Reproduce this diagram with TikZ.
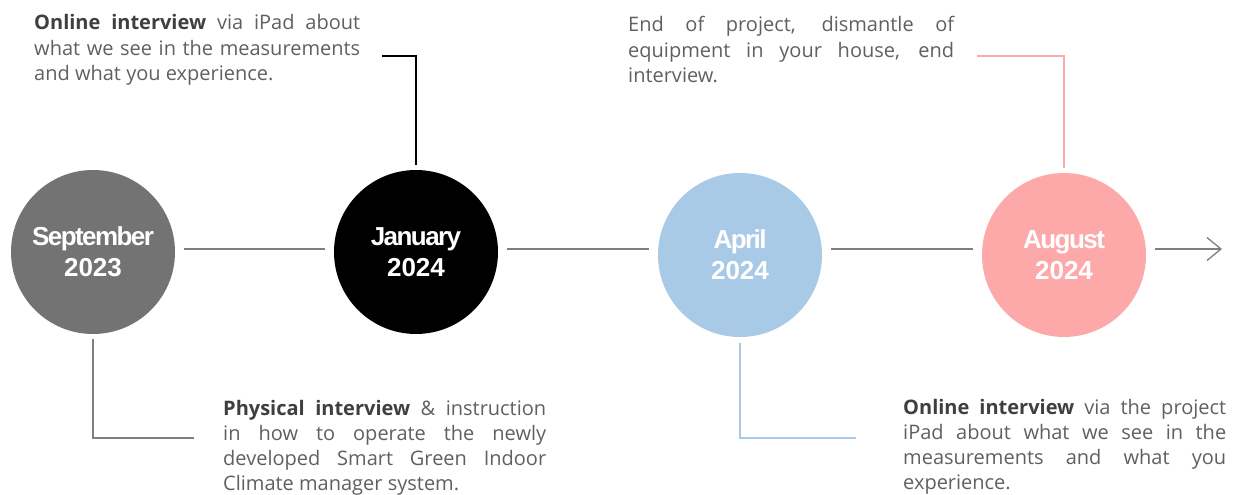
\documentclass[tikz,border=0pt]{standalone}
\usepackage{fontspec}
\setmainfont{Open Sans}
\newfontfamily\yearfont{Liberation Sans}
\newfontfamily\monthfont[LetterSpace=-6]{Liberation Sans}
\usetikzlibrary{arrows.meta}
\definecolor{sepgray}{HTML}{737373}
\definecolor{aprblue}{HTML}{A9CAE6}
\definecolor{augpink}{HTML}{FDA9AA}
\definecolor{linegray}{HTML}{7F7F7F}
\definecolor{txtgray}{HTML}{606060}
\definecolor{boldgray}{HTML}{3F3F3F}
\newcommand{\hl}[1]{{\color{boldgray}\bfseries #1}}
\newcommand{\mon}[1]{{\monthfont\bfseries #1}}
\newcommand{\nohyph}{\hyphenpenalty=10000\relax\exhyphenpenalty=10000\relax\hbadness=10000\relax}
\begin{document}
\begin{tikzpicture}[x=1bp,y=-1bp,
  datecircle/.style={circle, minimum size=164bp, inner sep=0pt, text=white, align=center,
    font=\yearfont\bfseries\fontsize{26bp}{31bp}\selectfont},
  bodytext/.style={anchor=base west, inner sep=0pt, text width=326bp, align=justify,
    font=\fontsize{20bp}{25.3bp}\selectfont\nohyph, text=txtgray},
  timeline/.style={draw=linegray, line width=1.3bp},
  conn/.style={line width=1.5bp}]
\useasboundingbox (0,0) rectangle (1238,495);
% circles
\node[datecircle, fill=sepgray] (sep) at (93,252) {\mon{September}\\2023};
\node[datecircle, fill=black] (jan) at (416,252) {\mon{January}\\2024};
\node[datecircle, fill=aprblue] (apr) at (740,255) {\mon{April}\\2024};
\node[datecircle, fill=augpink] (aug) at (1064,255) {\mon{August}\\2024};
% timeline
\coordinate (tl) at (0,249);
\coordinate (tend) at (1222,249);
\draw[timeline] ([xshift=9bp]sep.east |- tl) -- ([xshift=-9bp]jan.west |- tl);
\draw[timeline] ([xshift=9bp]jan.east |- tl) -- ([xshift=-9bp]apr.west |- tl);
\draw[timeline] ([xshift=9bp]apr.east |- tl) -- ([xshift=-9bp]aug.west |- tl);
\draw[timeline, -{Straight Barb[length=14bp,width=23bp,line width=1.3bp]}] ([xshift=9bp]aug.east |- tl) -- (tend);
% texts
\node[bodytext] (t1) at (34,30) {\hl{Online interview} via iPad about\linebreak what we see in the measurements\linebreak and what you experience.};
\node[bodytext] (t2) at (628,32) {End of project, dismantle of\linebreak equipment in your house, end\linebreak interview.};
\node[bodytext, text width=323bp] (t3) at (223,415) {\hl{Physical interview} \& instruction\linebreak in how to operate the newly\linebreak developed Smart Green Indoor\linebreak Climate manager system.};
\node[bodytext, text width=323bp] (t4) at (903,414) {\hl{Online interview} via the project\linebreak iPad about what we see in the\linebreak measurements and what you\linebreak experience.};
% connectors
\coordinate (c1) at (382,56);
\coordinate (c2) at (977,56);
\coordinate (c3) at (194,438);
\coordinate (c4) at (856,438);
\draw[conn, black] ([yshift=5bp]jan.north) |- (c1);
\draw[conn, augpink] ([yshift=5bp]aug.north) |- (c2);
\draw[conn, linegray] ([yshift=-5bp]sep.south) |- (c3);
\draw[conn, aprblue] ([yshift=-6bp]apr.south) |- (c4);
\end{tikzpicture}
\end{document}
